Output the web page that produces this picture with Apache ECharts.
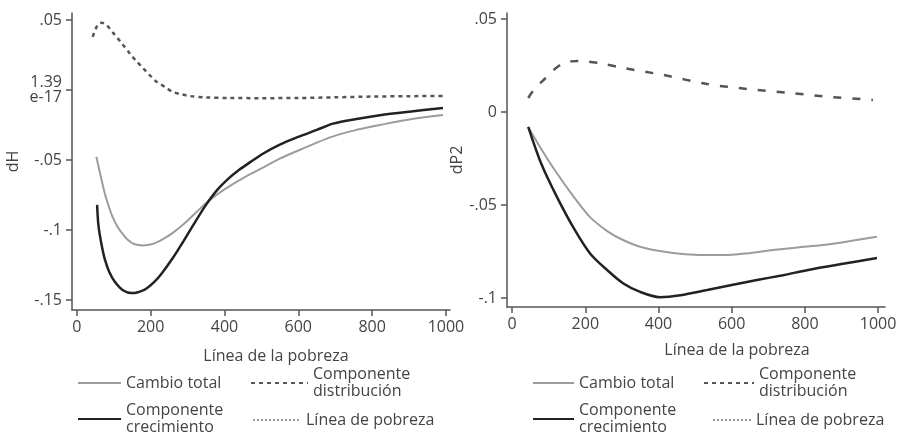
<!DOCTYPE html>
<html>
<head>
<meta charset="utf-8">
<script src="https://cdn.jsdelivr.net/npm/echarts@6/dist/echarts.min.js"></script>
<style>
html,body{margin:0;padding:0;background:#fff;}
#chart{width:900px;height:432px;}
</style>
</head>
<body>
<div id="chart"></div>
<script>
// ---- tick values and labels ----
const xTicks = [0, 200, 400, 600, 800, 1000];
const leftYTicks = [-0.15, -0.1, -0.05, 0, 0.05];
const leftYTickLabels = ['-.15', '-.1', '-.05', '1.39\ne-17', '.05'];
const rightYTicks = [-0.1, -0.05, 0, 0.05];
const rightYTickLabels = ['-.1', '-.05', '0', '.05'];
const seriesNames = ['Cambio total', 'Componente distribución', 'Componente crecimiento', 'Línea de pobreza'];
const legendLabels = ['Cambio total', 'Componente\ndistribución', 'Componente\ncrecimiento', 'Línea de pobreza'];
const xTitle = 'Línea de la pobreza';
const leftYTitle = 'dH';
const rightYTitle = 'dP2';

// ---- left panel (dH) ----
const hTotalX = [53, 60, 67, 75, 84, 96, 111, 125, 138, 155, 179, 205, 230, 260, 293, 325, 356, 400, 460, 504, 550, 620, 686, 750, 821, 900, 992];
const hTotalY = [-0.0476, -0.056, -0.064, -0.073, -0.081, -0.09, -0.098, -0.103, -0.107, -0.11, -0.111, -0.11, -0.107, -0.102, -0.095, -0.087, -0.0795, -0.071, -0.0615, -0.0555, -0.049, -0.041, -0.0338, -0.029, -0.025, -0.021, -0.0179];

const hDistX = [43, 50, 58, 68, 80, 98, 120, 144, 160, 179, 198, 217, 240, 260, 283, 306, 350, 415, 500, 600, 700, 800, 900, 1000];
const hDistY = [0.038, 0.043, 0.047, 0.048, 0.0465, 0.041, 0.034, 0.026, 0.021, 0.0157, 0.0105, 0.0057, 0.002, -0.0014, -0.003, -0.0043, -0.0053, -0.0057, -0.0058, -0.0057, -0.0052, -0.0047, -0.0044, -0.0043];

const hGrowX = [55, 58, 62, 69, 76, 88, 103, 125, 149, 184, 210, 230, 260, 290, 320, 350, 380, 410, 440, 470, 504, 550, 600, 650, 694, 750, 821, 900, 992];
const hGrowY = [-0.082, -0.095, -0.103, -0.113, -0.121, -0.13, -0.137, -0.143, -0.145, -0.1425, -0.137, -0.131, -0.12, -0.1075, -0.0945, -0.082, -0.0715, -0.0635, -0.057, -0.0515, -0.0455, -0.039, -0.0335, -0.0285, -0.024, -0.021, -0.018, -0.0155, -0.0129];

// ---- right panel (dP2) ----
const pTotalX = [44, 80, 122, 170, 213, 260, 303, 360, 440, 510, 577, 640, 713, 780, 850, 920, 997];
const pTotalY = [-0.008, -0.02, -0.0328, -0.046, -0.0565, -0.064, -0.0688, -0.073, -0.0758, -0.0768, -0.0769, -0.076, -0.0742, -0.0728, -0.0715, -0.0695, -0.067];

const pDistX = [44, 60, 90, 110, 137, 160, 186, 240, 303, 413, 533, 642, 760, 877, 986];
const pDistY = [0.0075, 0.012, 0.018, 0.022, 0.026, 0.0272, 0.0274, 0.0262, 0.0237, 0.0199, 0.015, 0.0124, 0.0102, 0.008, 0.0065];

const pGrowX = [44, 80, 122, 170, 213, 260, 303, 350, 404, 460, 533, 600, 669, 740, 806, 900, 997];
const pGrowY = [-0.008, -0.028, -0.0455, -0.063, -0.076, -0.085, -0.092, -0.0967, -0.0995, -0.0985, -0.0957, -0.093, -0.0903, -0.0877, -0.085, -0.0817, -0.0785];

function zip(xs, ys) { return xs.map((x, i) => [x, ys[i]]); }
function lookup(ticks, labels) {
  return function (v) {
    for (let i = 0; i < ticks.length; i++) if (Math.abs(v - ticks[i]) < 1e-9) return labels[i];
    return '';
  };
}

const FONT = '"Open Sans"';
const FS = 16;
const TXT = '#444';
const AX = '#555';

function xAxisCfg(gridIndex, min, max, namePad, gap) {
  return {
    type: 'value', gridIndex: gridIndex, min: min, max: max,
    name: xTitle, nameLocation: 'middle', nameGap: gap,
    nameTextStyle: { color: TXT, fontSize: FS, fontFamily: FONT, padding: namePad },
    axisLine: { show: true, onZero: false, lineStyle: { color: AX, width: 1.5 } },
    axisTick: { show: true, length: 6, customValues: xTicks, lineStyle: { color: AX, width: 1.5 } },
    axisLabel: { customValues: xTicks, margin: 9, color: TXT, fontSize: FS, fontFamily: FONT,
      formatter: function (v) { return String(v); } },
    splitLine: { show: false }
  };
}
function yAxisCfg(gridIndex, min, max, ticks, labels, name, gap) {
  return {
    type: 'value', gridIndex: gridIndex, min: min, max: max,
    name: name, nameLocation: 'middle', nameGap: gap, nameRotate: 90,
    nameTextStyle: { color: TXT, fontSize: FS, fontFamily: FONT },
    axisLine: { show: true, onZero: false, lineStyle: { color: AX, width: 1.5 } },
    axisTick: { show: true, length: 6, customValues: ticks, lineStyle: { color: AX, width: 1.5 } },
    axisLabel: { customValues: ticks, margin: 10, color: TXT, fontSize: FS, fontFamily: FONT,
      lineHeight: 15, formatter: lookup(ticks, labels) },
    splitLine: { show: false }
  };
}

const styles = {
  total: { color: '#9c9c9c', width: 2, type: 'solid' },
  distL: { color: '#555', width: 2.5, type: [4, 4] },
  distR: { color: '#555', width: 2.5, type: [8, 11] },
  grow: { color: '#222', width: 2.5, type: 'solid' },
  linea: { color: '#9c9c9c', width: 1, type: [2, 2] }
};

function line(name, data, xi, yi, ls) {
  return {
    type: 'line', name: name, xAxisIndex: xi, yAxisIndex: yi, data: data,
    symbol: 'none', smooth: 0.3,
    lineStyle: ls, itemStyle: { color: ls.color }, animation: false, silent: true
  };
}

function legendItem(idx, left, centerY, itemWidth) {
  const label = legendLabels[idx];
  const lines = label.split('\n').length;
  const lh = 17;
  return {
    data: [seriesNames[idx]], left: left, top: centerY - (lines * lh) / 2, padding: 0,
    itemWidth: itemWidth, itemHeight: 14,
    itemStyle: { opacity: 0 },
    formatter: function () { return label; },
    textStyle: { color: TXT, fontSize: FS, fontFamily: FONT, lineHeight: lh },
    selectedMode: false
  };
}

const chart = echarts.init(document.getElementById('chart'), null, { renderer: 'canvas' });
chart.setOption({
  backgroundColor: '#fff',
  animation: false,
  grid: [
    { left: 72, top: 13, width: 378, height: 297 },
    { left: 507, top: 13, width: 378, height: 294 }
  ],
  xAxis: [
    xAxisCfg(0, -13, 1011, [0, 0, 0, 30], 38),
    xAxisCfg(1, -14, 1019, [0, 0, 0, 82], 35)
  ],
  yAxis: [
    yAxisCfg(0, -0.1571, 0.055, leftYTicks, leftYTickLabels, leftYTitle, 51),
    yAxisCfg(1, -0.1048, 0.0532, rightYTicks, rightYTickLabels, rightYTitle, 26)
  ],
  legend: [
    legendItem(0, 77, 383, 43),
    legendItem(1, 250, 383, 57),
    legendItem(2, 77, 419, 43),
    legendItem(3, 252, 420, 48),
    legendItem(0, 532, 383, 41),
    legendItem(1, 703, 383, 50),
    legendItem(2, 532, 419, 41),
    legendItem(3, 712, 420, 38)
  ],
  series: [
    line(seriesNames[0], zip(hTotalX, hTotalY), 0, 0, styles.total),
    line(seriesNames[1], zip(hDistX, hDistY), 0, 0, styles.distL),
    line(seriesNames[2], zip(hGrowX, hGrowY), 0, 0, styles.grow),
    line(seriesNames[3], [], 0, 0, styles.linea),
    line(seriesNames[0], zip(pTotalX, pTotalY), 1, 1, styles.total),
    line(seriesNames[1], zip(pDistX, pDistY), 1, 1, styles.distR),
    line(seriesNames[2], zip(pGrowX, pGrowY), 1, 1, styles.grow),
    line(seriesNames[3], [], 1, 1, styles.linea)
  ]
});
</script>
</body>
</html>
